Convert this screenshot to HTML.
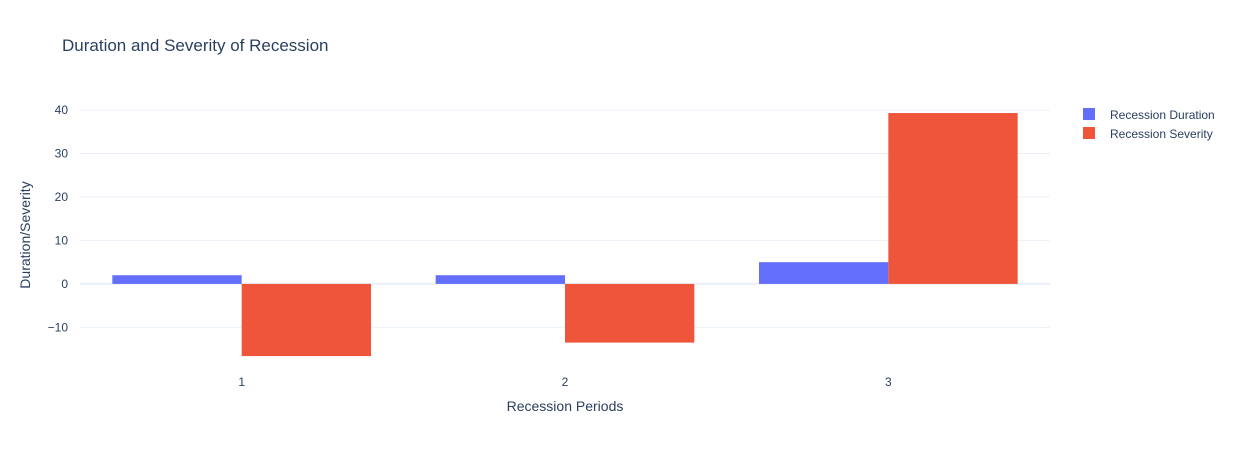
<!DOCTYPE html>
<html><head><meta charset="utf-8"><style>
body{margin:0;background:#fff;font-family:"Liberation Sans",Arial,sans-serif;}
svg text{font-family:"Liberation Sans",Arial,sans-serif;}
</style></head><body>
<svg id="chart" width="1242" height="450">
<text x="62" y="51" font-size="17" fill="#2a3f5f">Duration and Severity of Recession</text>
<g id="grid"></g><g id="bars"></g><g id="axes"></g>
<text x="565" y="411" font-size="14" fill="#2a3f5f" text-anchor="middle">Recession Periods</text>
<text transform="translate(30,235) rotate(-90)" font-size="14" fill="#2a3f5f" text-anchor="middle">Duration/Severity</text>
<g>
<g><rect x="1083" y="108" width="12" height="12" fill="#636efa"/><text x="1110" y="119" font-size="12" fill="#2a3f5f">Recession Duration</text></g>
<g><rect x="1083" y="127" width="12" height="12" fill="#ef553b"/><text x="1110" y="138" font-size="12" fill="#2a3f5f">Recession Severity</text></g>
</g>
</svg>
<script>
const categories=["1","2","3"];
const duration=[2,2,5];
const severity=[-16.6,-13.5,39.3];
const yTicks=[-10,0,10,20,30,40];
const NS="http://www.w3.org/2000/svg";
const X0=80,X1=1050,Y0=100,Y1=370,ymin=-19.8,ymax=42.3;
const y=v=>Y1-(v-ymin)/(ymax-ymin)*(Y1-Y0);
const bandW=(X1-X0)/categories.length;
const xc=i=>X0+bandW*(i+0.5);
function mk(tag,attrs,parent){const e=document.createElementNS(NS,tag);for(const k in attrs)e.setAttribute(k,attrs[k]);document.getElementById(parent).appendChild(e);return e;}
yTicks.forEach(t=>{
  const l=mk('line',{x1:X0,x2:X1,y1:y(t),y2:y(t),stroke:t===0?'#ebf0f8':'#ebf0f8','stroke-width':t===0?2:1},'grid');
  
  
  const tx=mk('text',{x:X0-12,y:y(t)+4,'font-size':12,fill:'#2a3f5f','text-anchor':'end'},'axes');
  tx.textContent=t<0?'\u2212'+Math.abs(t):t;
  
  
});
const bw=bandW*0.4;
categories.forEach((c,i)=>{
  [[duration,'#636efa',-1,'duration'],[severity,'#ef553b',0,'severity']].forEach(([arr,col,off,nm])=>{
    const v=arr[i];const top=Math.min(y(v),y(0));const h=Math.abs(y(v)-y(0));
    const r=mk('rect',{x:xc(i)+off*bw,y:top,width:bw,height:h,fill:col},'bars');
    
    
  });
  const tx=mk('text',{x:xc(i),y:386,'font-size':12,fill:'#2a3f5f','text-anchor':'middle'},'axes');
  tx.textContent=c;
  
  
});
</script>
</body></html>
